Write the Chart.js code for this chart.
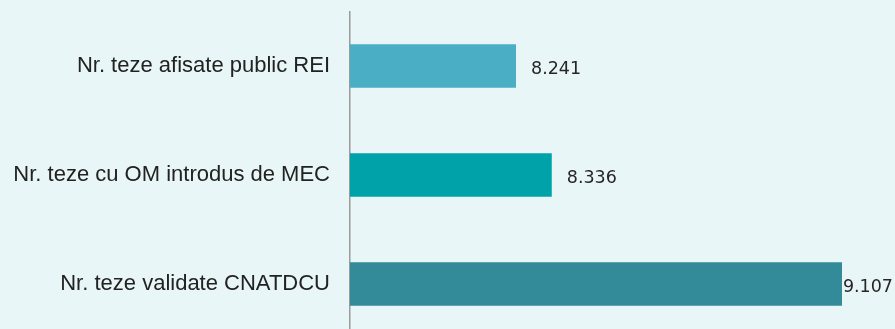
<!DOCTYPE html>
<html>
<head>
<meta charset="utf-8">
<script src="https://cdn.jsdelivr.net/npm/chart.js@4"></script>
<style>
    html, body { margin: 0; padding: 0; overflow: hidden; background: #e9f6f7; }
    canvas { display: block; }
</style>
</head>
<body>
<canvas id="teze-chart" width="895" height="340"></canvas>
<script>
// numbers of theses, top to bottom
const categories = ['Nr. teze afisate public REI', 'Nr. teze cu OM introdus de MEC', 'Nr. teze validate CNATDCU'];
const values = [8241, 8336, 9107];
const barColors = ['#4aaec4', '#00a2aa', '#338a99'];

// 8241 -> "8.241"
function formatRo(n) {
    return String(n).replace(/\B(?=(\d{3})+(?!\d))/g, '.');
}

// value labels after each bar, pushed back inside the canvas if they would overflow
const valueLabels = {
    id: 'valueLabels',
    afterDatasetsDraw(chart) {
        const ctx = chart.ctx;
        const meta = chart.getDatasetMeta(0);
        ctx.save();
        ctx.font = '17.5px "DejaVu Sans"';
        ctx.fillStyle = '#262626';
        ctx.textBaseline = 'middle';
        meta.data.forEach((bar, i) => {
            const text = formatRo(values[i]);
            const w = ctx.measureText(text).width;
            let x = bar.x + 15;
            if (x + w > chart.width - 2) {
                x = chart.width - 2 - w;
            }
            ctx.fillText(text, x, bar.y + 3);
        });
        ctx.restore();
    }
};

const ctx = document.getElementById('teze-chart').getContext('2d');

new Chart(ctx, {
    type: 'bar',
    data: {
        labels: categories,
        datasets: [{
            data: values,
            backgroundColor: barColors,
            borderWidth: 0,
            barPercentage: 0.4,
            categoryPercentage: 1
        }]
    },
    options: {
        indexAxis: 'y',
        responsive: false,
        animation: false,
        layout: {
            padding: { top: 11.5, right: 18, bottom: 1.5, left: 0 }
        },
        plugins: {
            legend: { display: false },
            tooltip: { enabled: false }
        },
        scales: {
            x: {
                display: false,
                min: 7800,
                max: 9200
            },
            y: {
                afterFit(scale) {
                    // fixed label column, no extra vertical padding from the tick labels
                    scale.width = 350;
                    scale.paddingTop = 0;
                    scale.paddingBottom = 0;
                },
                grid: {
                    color: 'rgba(0,0,0,0)',
                    drawTicks: false,
                    drawOnChartArea: false
                },
                border: {
                    display: true,
                    color: '#9a9a9a',
                    width: 1.5
                },
                ticks: {
                    padding: 20,
                    color: '#222222',
                    font: { family: '"Liberation Sans", Arial, sans-serif', size: 22 }
                }
            }
        }
    },
    plugins: [valueLabels]
});
</script>
</body>
</html>
